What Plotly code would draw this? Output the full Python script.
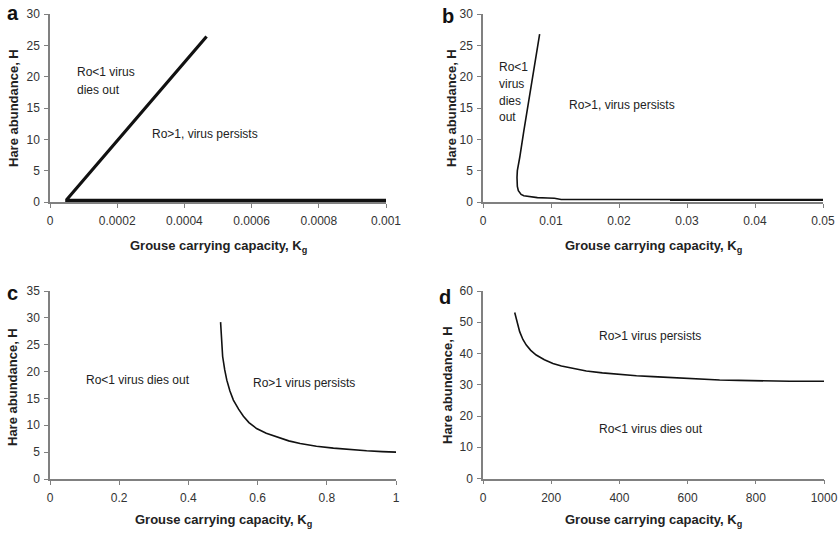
import plotly.graph_objects as go

# ---------------- data ----------------
# Panel a
Ka = [0.000466, 0.0004, 0.0003, 0.0002, 0.0001, 0.00005, 0.00005, 0.0002, 0.0006, 0.001]
Ha = [26.4, 22.3, 16.1, 9.9, 3.6, 0.4, 0.25, 0.25, 0.25, 0.25]
# Panel b
Kb = [0.00833, 0.0075, 0.0068, 0.006, 0.0054, 0.00505, 0.005, 0.00505, 0.0052, 0.0056, 0.006, 0.007, 0.008, 0.0095, 0.0105, 0.0115, 0.02, 0.03, 0.05]
Hb = [26.8, 21.5, 16.5, 11.3, 7.1, 5.0, 3.9, 2.5, 1.8, 1.2, 1.0, 0.8, 0.7, 0.65, 0.6, 0.4, 0.4, 0.4, 0.4]
Kb2 = [0.0275, 0.05]
Hb2 = [0.3, 0.3]
# Panel c
Kc = [0.493, 0.494, 0.496, 0.499, 0.505, 0.511, 0.52, 0.53, 0.545, 0.559, 0.575, 0.597, 0.625, 0.655, 0.69, 0.723, 0.77, 0.819, 0.87, 0.915, 0.96, 1.0]
Hc = [29.2, 27.8, 26.0, 22.8, 20.3, 18.4, 16.4, 14.7, 13.0, 11.7, 10.5, 9.4, 8.5, 7.8, 7.1, 6.6, 6.1, 5.75, 5.45, 5.25, 5.1, 5.0]
# Panel d
Kd = [93, 100, 107.5, 117, 127, 140, 156, 180, 205, 230, 254, 303, 350, 401, 450, 499, 550, 596, 650, 694, 750, 841, 900, 1000]
Hd = [53.1, 50.0, 47.0, 44.5, 42.7, 41.0, 39.5, 38.0, 36.8, 36.0, 35.5, 34.4, 33.8, 33.3, 32.9, 32.6, 32.3, 32.0, 31.8, 31.5, 31.4, 31.2, 31.1, 31.1]

# tick labels
xa_ticks = [0, 0.0002, 0.0004, 0.0006, 0.0008, 0.001]
xa_text = ["0", "0.0002", "0.0004", "0.0006", "0.0008", "0.001"]
xb_ticks = [0, 0.01, 0.02, 0.03, 0.04, 0.05]
xb_text = ["0", "0.01", "0.02", "0.03", "0.04", "0.05"]
xc_ticks = [0, 0.2, 0.4, 0.6, 0.8, 1.0]
xc_text = ["0", "0.2", "0.4", "0.6", "0.8", "1"]
xd_ticks = [0, 200, 400, 600, 800, 1000]
xd_text = ["0", "200", "400", "600", "800", "1000"]
yab_ticks = [0, 5, 10, 15, 20, 25, 30]
yc_ticks = [0, 5, 10, 15, 20, 25, 30, 35]
yd_ticks = [0, 10, 20, 30, 40, 50, 60]

panel_letters = ["a", "b", "c", "d"]
x_title = "Grouse carrying capacity, K<sub>g</sub>"
y_title = "Hare abundance, H"

# ---------------- figure ----------------
W, H = 839, 534
FONT = "Arial, Liberation Sans, Helvetica, sans-serif"
LINE = "#111111"
AX = "#808080"
TXT = "#222222"


def px_x(p):
    return p / W


def px_y(p):
    return 1 - p / H


fig = go.Figure()

fig.add_trace(go.Scatter(x=Ka, y=Ha, mode="lines", line=dict(color=LINE, width=3.2), xaxis="x", yaxis="y", showlegend=False))
fig.add_trace(go.Scatter(x=Kb, y=Hb, mode="lines", line=dict(color=LINE, width=1.6), xaxis="x2", yaxis="y2", showlegend=False))
fig.add_trace(go.Scatter(x=Kb2, y=Hb2, mode="lines", line=dict(color=LINE, width=1.6), xaxis="x2", yaxis="y2", showlegend=False))
fig.add_trace(go.Scatter(x=Kc, y=Hc, mode="lines", line=dict(color=LINE, width=1.6), xaxis="x3", yaxis="y3", showlegend=False))
fig.add_trace(go.Scatter(x=Kd, y=Hd, mode="lines", line=dict(color=LINE, width=1.6), xaxis="x4", yaxis="y4", showlegend=False))

common = dict(showline=True, linecolor=AX, linewidth=1.5, ticks="outside", ticklen=4, tickwidth=1.2,
              tickcolor=AX, showgrid=False, zeroline=False, tickfont=dict(family=FONT, size=12, color="#333333"),
              fixedrange=True, automargin=False)
xcommon = dict(common, ticklabelstandoff=3)
ycommon = dict(common, ticklabelstandoff=2)

fig.update_layout(
    width=W, height=H, margin=dict(l=0, r=0, t=0, b=0, autoexpand=False),
    paper_bgcolor="white", plot_bgcolor="white",
    font=dict(family=FONT, color=TXT),
    xaxis=dict(domain=[px_x(50), px_x(386)], range=[0, 0.001], tickvals=xa_ticks, ticktext=xa_text,
               anchor="y", **xcommon),
    yaxis=dict(domain=[px_y(202), px_y(14)], range=[0, 30], tickvals=yab_ticks, anchor="x", **ycommon),
    xaxis2=dict(domain=[px_x(483), px_x(823)], range=[0, 0.05], tickvals=xb_ticks, ticktext=xb_text,
                anchor="y2", **xcommon),
    yaxis2=dict(domain=[px_y(202), px_y(14)], range=[0, 30], tickvals=yab_ticks, anchor="x2", **ycommon),
    xaxis3=dict(domain=[px_x(50), px_x(396)], range=[0, 1], tickvals=xc_ticks, ticktext=xc_text,
                anchor="y3", **xcommon),
    yaxis3=dict(domain=[px_y(479), px_y(291)], range=[0, 35], tickvals=yc_ticks, anchor="x3", **ycommon),
    xaxis4=dict(domain=[px_x(483), px_x(824)], range=[0, 1000], tickvals=xd_ticks, ticktext=xd_text,
                anchor="y4", **xcommon),
    yaxis4=dict(domain=[px_y(478.5), px_y(291)], range=[0, 60], tickvals=yd_ticks, anchor="x4", **ycommon),
)

title_font = dict(family=FONT, size=13, color=TXT, weight="bold")
# x-axis titles (centre px positions)
for cx, cy in [(218, 246), (653, 246), (223, 520), (653.5, 520)]:
    fig.add_annotation(x=px_x(cx), y=px_y(cy), xref="paper", yref="paper", text=x_title, showarrow=False,
                       xanchor="center", yanchor="middle", font=title_font)
# y-axis titles
for cx, cy in [(13, 108), (451, 108), (12, 387), (447, 385)]:
    fig.add_annotation(x=px_x(cx), y=px_y(cy), xref="paper", yref="paper", text=y_title, showarrow=False,
                       textangle=-90, xanchor="center", yanchor="middle", font=title_font)

ann_font = dict(family=FONT, size=12, color=TXT)
region_labels = [
    ("x", "y", 0.000075, 20.8, "Ro<1 virus"),
    ("x", "y", 0.000075, 17.9, "dies out"),
    ("x", "y", 0.000298, 10.8, "Ro>1, virus persists"),
    ("x2", "y2", 0.0020, 21.6, "Ro<1"),
    ("x2", "y2", 0.0020, 18.8, "virus"),
    ("x2", "y2", 0.0020, 16.1, "dies"),
    ("x2", "y2", 0.0020, 13.5, "out"),
    ("x2", "y2", 0.0123, 15.4, "Ro>1, virus persists"),
    ("x3", "y3", 0.099, 18.4, "Ro<1 virus dies out"),
    ("x3", "y3", 0.58, 17.9, "Ro>1 virus persists"),
    ("x4", "y4", 333, 45.6, "Ro>1 virus persists"),
    ("x4", "y4", 333, 15.7, "Ro<1 virus dies out"),
]
for xr, yr, xv, yv, t in region_labels:
    fig.add_annotation(x=xv, y=yv, xref=xr, yref=yr, text=t, showarrow=False,
                       xanchor="left", yanchor="middle", font=ann_font)

letter_pos = [(13, 13), (448, 16), (12, 293), (445, 297)]
for (lx, ly), letter in zip(letter_pos, panel_letters):
    fig.add_annotation(x=px_x(lx), y=px_y(ly), xref="paper", yref="paper", text="<b>%s</b>" % letter,
                       showarrow=False, xanchor="center", yanchor="middle",
                       font=dict(family=FONT, size=20, color="#111111"))

fig.write_html("out.html", config={"displayModeBar": False},
               post_script="document.body.style.margin='0';document.body.style.padding='0';")
